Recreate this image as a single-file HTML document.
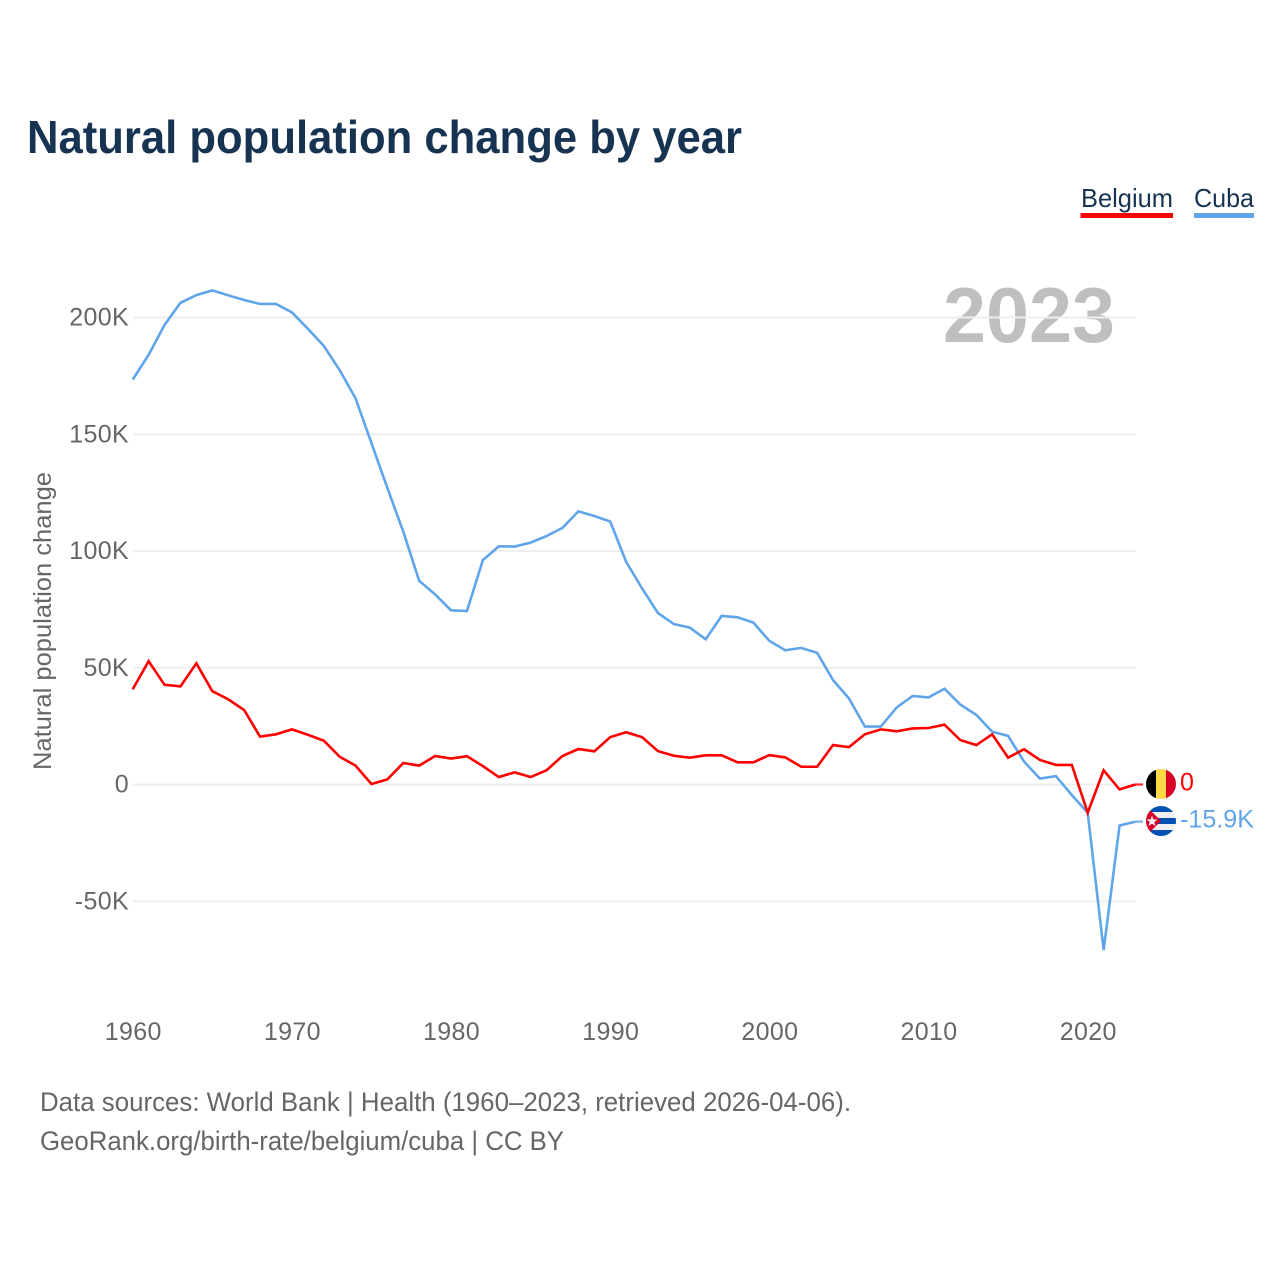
<!DOCTYPE html>
<html lang="en">
<head>
<meta charset="utf-8">
<title>Natural population change by year</title>
<style>
html,body{margin:0;padding:0;background:#fff;width:1280px;height:1280px;overflow:hidden}
svg{display:block}
text{font-family:"Liberation Sans",sans-serif}
.tick{font-size:25px;fill:#666;letter-spacing:.35px}
.foot{font-size:26.5px;fill:#666}
</style>
</head>
<body>
<svg id="chart" xmlns="http://www.w3.org/2000/svg" width="1280" height="1280" viewBox="0 0 1280 1280">
  <defs>
    <clipPath id="clip-be"><circle cx="1161" cy="784" r="15"/></clipPath>
    <clipPath id="clip-cu"><circle cx="1161" cy="821" r="15"/></clipPath>
  </defs>
  <rect width="1280" height="1280" fill="#fff"/>
  <text x="27" y="153" font-size="46" font-weight="700" fill="#173352" textLength="715" lengthAdjust="spacingAndGlyphs">Natural population change by year</text>

  <g>
    <g>
      <text x="1081" y="207" font-size="26" fill="#173352" textLength="92" lengthAdjust="spacingAndGlyphs">Belgium</text>
      <rect x="1080.5" y="213" width="92.5" height="5" fill="#ff0000"/>
    </g>
    <g>
      <text x="1194" y="207" font-size="26" fill="#173352" textLength="60" lengthAdjust="spacingAndGlyphs">Cuba</text>
      <rect x="1194" y="213" width="60" height="5" fill="#60a5ea"/>
    </g>
  </g>

  <text x="943" y="342" font-size="78" font-weight="700" fill="#bfbfbf" textLength="172" lengthAdjust="spacingAndGlyphs">2023</text>
  <text transform="translate(51,621) rotate(-90)" text-anchor="middle" font-size="25" fill="#666" textLength="298" lengthAdjust="spacingAndGlyphs">Natural population change</text>

  <g id="grid"></g>
  <g id="yticks"></g>
  <g id="xticks"></g>
  <g id="series"></g>

  <g id="flag-belgium" clip-path="url(#clip-be)">
    <rect x="1146" y="769" width="10" height="30" fill="#000"/>
    <rect x="1156" y="769" width="10" height="30" fill="#ffda44"/>
    <rect x="1166" y="769" width="10" height="30" fill="#d80027"/>
  </g>
  <g id="flag-cuba" clip-path="url(#clip-cu)">
    <rect x="1146" y="806" width="30" height="30" fill="#f0f0f0"/>
    <rect x="1146" y="806" width="30" height="6" fill="#0052b4"/>
    <rect x="1146" y="818" width="30" height="6" fill="#0052b4"/>
    <rect x="1146" y="830" width="30" height="6" fill="#0052b4"/>
    <polygon points="1146,806 1161,821 1146,836" fill="#d80027"/>
    <polygon points="1152,815.5 1153.4,819.4 1157.6,819.5 1154.3,822 1155.5,826 1152,823.7 1148.5,826 1149.7,822 1146.4,819.5 1150.6,819.4" fill="#f0f0f0"/>
  </g>
  <g id="end-labels"></g>

  <text class="foot" x="40" y="1111" textLength="811" lengthAdjust="spacingAndGlyphs">Data sources: World Bank | Health (1960–2023, retrieved 2026-04-06).</text>
  <text class="foot" x="40" y="1150" textLength="524" lengthAdjust="spacingAndGlyphs">GeoRank.org/birth-rate/belgium/cuba | CC BY</text>
</svg>
<script>
const startYear = 1960;
const xTickYears = [1960, 1970, 1980, 1990, 2000, 2010, 2020];
const yTickValues = [200, 150, 100, 50, 0, -50];
const yTickLabels = ["200K", "150K", "100K", "50K", "0", "-50K"];
const cubaValues = [173.4,184,196.8,206.3,209.6,211.6,209.5,207.5,205.8,205.8,202.2,195.2,187.9,177.5,165.4,146.2,127,108.3,87.2,81.4,74.6,74.3,96.1,102,101.9,103.6,106.4,109.9,117,115,112.6,95.4,84,73.4,68.7,67.2,62.2,72.2,71.6,69.3,61.5,57.5,58.5,56.4,44.7,36.9,24.8,24.8,33,37.9,37.3,41,34.2,29.8,22.6,20.8,9.8,2.5,3.6,-4.5,-12.1,-70.9,-17.6,-15.9];
const belgiumValues = [40.8,52.8,42.7,42,51.9,40,36.5,31.9,20.5,21.5,23.6,21.3,18.8,11.9,8.1,0.2,2.2,9.2,8.1,12.2,11.1,12.1,7.9,3.2,5.2,3.2,6.1,12.2,15.2,14.2,20.3,22.4,20.3,14.3,12.3,11.5,12.5,12.5,9.5,9.5,12.6,11.6,7.6,7.6,16.9,16,21.5,23.6,22.8,24,24.2,25.6,19,16.9,21.5,11.5,15.1,10.5,8.4,8.4,-12.1,6.1,-2.1,0];
const cubaEndLabel = "-15.9K";
const belgiumEndLabel = "0";

const NS = "http://www.w3.org/2000/svg";
const xScale = function (year) { return 132.7 + (year - 1960) * 15.917; };
const yScale = function (v) { return 784.5 - v * 2.335; };

function make(tag, parent, attrs, text) {
  const el = document.createElementNS(NS, tag);
  for (const k in attrs) el.setAttribute(k, attrs[k]);
  if (text !== undefined) el.textContent = text;
  parent.appendChild(el);
  return el;
}

const gridG = document.getElementById("grid");
const yG = document.getElementById("yticks");
const xG = document.getElementById("xticks");
const seriesG = document.getElementById("series");
const endG = document.getElementById("end-labels");

yTickValues.forEach(function (v, i) {
  const line = make("line", gridG, { x1: 133, x2: 1136, y1: yScale(v), y2: yScale(v), stroke: "#eeeeee", "stroke-width": 2 });
  
  
  const label = make("text", yG, { x: 129, y: yScale(v) + 8, "text-anchor": "end", class: "tick" }, yTickLabels[i]);
  
  
});

xTickYears.forEach(function (yr) {
  const label = make("text", xG, { x: xScale(yr) + 0.5, y: 1040, "text-anchor": "middle", class: "tick" }, String(yr));
  
  
});

function pointsFor(values) {
  return values.map(function (v, i) { return xScale(startYear + i).toFixed(2) + "," + yScale(v).toFixed(2); }).join(" ");
}

const cubaLine = make("polyline", seriesG, { points: pointsFor(cubaValues), fill: "none", stroke: "#60a5ea", "stroke-width": 2.6, "stroke-linejoin": "miter" });



const belgiumLine = make("polyline", seriesG, { points: pointsFor(belgiumValues), fill: "none", stroke: "#ff0000", "stroke-width": 2.6, "stroke-linejoin": "miter" });



const lastX = xScale(startYear + cubaValues.length - 1);
const cubaLast = yScale(cubaValues[cubaValues.length - 1]);
const belgiumLast = yScale(belgiumValues[belgiumValues.length - 1]);

const cubaStub = make("line", seriesG, { x1: lastX, x2: 1143, y1: cubaLast, y2: cubaLast, stroke: "#60a5ea", "stroke-width": 2.2, opacity: 0.85 });



const belgiumStub = make("line", seriesG, { x1: lastX, x2: 1143, y1: belgiumLast, y2: belgiumLast, stroke: "#ff0000", "stroke-width": 2.2, opacity: 0.85 });



const belgiumValueLabel = make("text", endG, { x: 1180, y: belgiumLast + 6, "font-size": 25, fill: "#ff0000" }, belgiumEndLabel);



const cubaValueLabel = make("text", endG, { x: 1180, y: cubaLast + 6, "font-size": 25, fill: "#60a5ea", textLength: 74, lengthAdjust: "spacingAndGlyphs" }, cubaEndLabel);


</script>
</body>
</html>
